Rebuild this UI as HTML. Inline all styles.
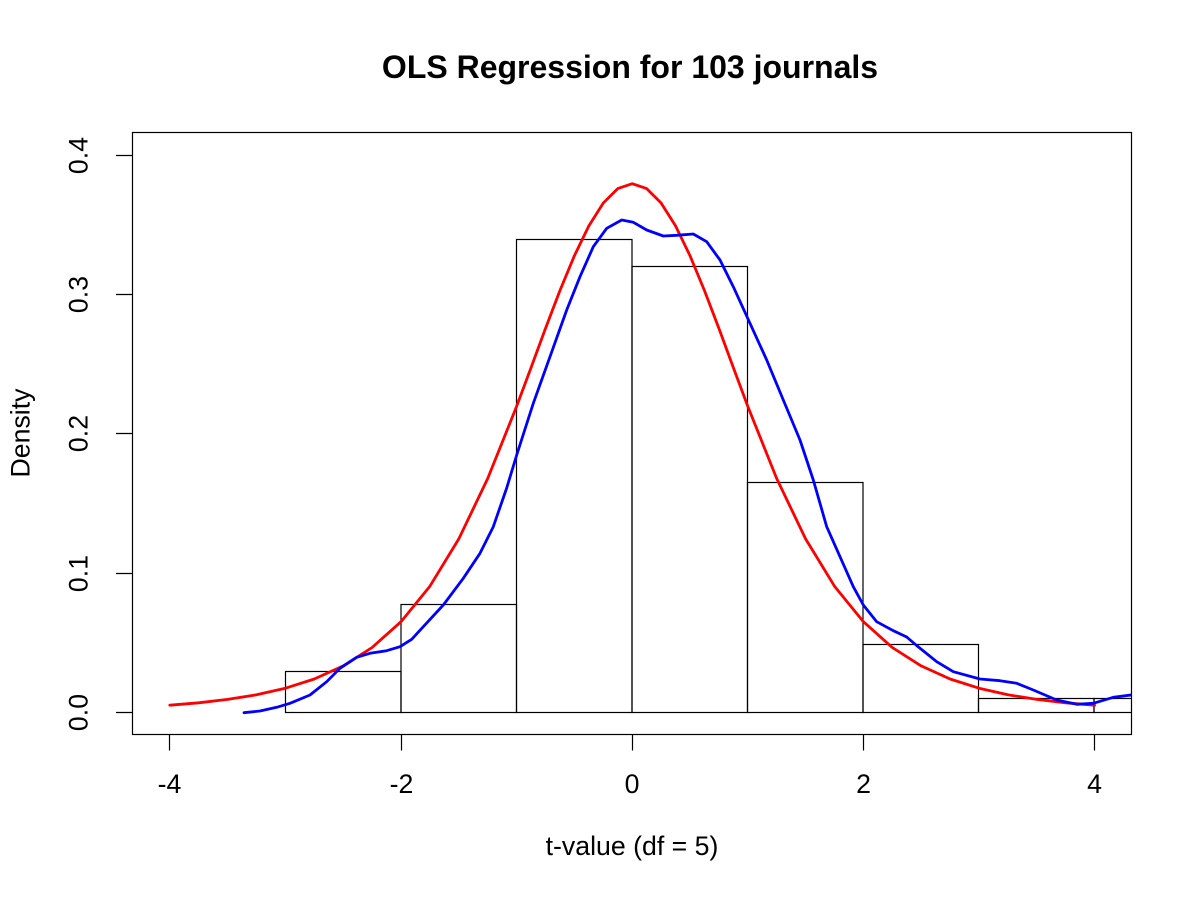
<!DOCTYPE html>
<html>
<head>
<meta charset="utf-8">
<style>
  html, body { margin:0; padding:0; background:#fff; }
  svg { display:block; }
  text { font-family: "Liberation Sans", Arial, sans-serif; fill:#000; }
</style>
</head>
<body>
<svg width="1200" height="900" viewBox="0 0 1200 900" xmlns="http://www.w3.org/2000/svg">
  <rect x="0" y="0" width="1200" height="900" fill="#fff"/>
  <defs>
    <clipPath id="plot">
      <rect x="132.5" y="132.5" width="999" height="602"/>
    </clipPath>
  </defs>

  <!-- Title -->
  <text x="630" y="78" font-size="32" font-weight="bold" text-anchor="middle">OLS Regression for 103 journals</text>

  <!-- Histogram -->
  <g clip-path="url(#plot)" fill="none" stroke="#000" stroke-width="1.2">
    <rect x="285.5" y="671.5" width="115.5" height="41"/>
    <rect x="401" y="604.5" width="115.5" height="108"/>
    <rect x="516.5" y="239.5" width="115.5" height="473"/>
    <rect x="632" y="266.5" width="115.5" height="446"/>
    <rect x="747.5" y="482.5" width="115.5" height="230"/>
    <rect x="863" y="644.5" width="115.5" height="68"/>
    <rect x="978.5" y="698.5" width="115.5" height="14"/>
    <rect x="1094" y="698.5" width="115.5" height="14"/>
  </g>

  <!-- Red t-density curve -->
  <polyline clip-path="url(#plot)" fill="none" stroke="#ff0000" stroke-width="2.8" stroke-linejoin="round" stroke-linecap="round"
    points="169.8,705.2 198.7,702.8 227.6,699.4 256.5,694.8 285.4,688.2 314.3,679.0 343.2,665.9 372.1,647.5 401.0,621.7 429.9,586.2 458.8,538.9 487.7,478.5 516.6,406.4 531.05,367.6 545.5,328.4 559.95,290.5 574.4,255.7 588.85,225.9 603.3,203.0 617.75,188.6 632.2,183.7 646.65,188.6 661.1,203.0 675.55,225.9 690.0,255.7 704.45,290.5 718.9,328.4 733.35,367.6 747.8,406.4 776.7,478.5 805.6,538.9 834.5,586.2 863.4,621.7 892.3,647.5 921.2,665.9 950.1,679.0 979.0,688.2 1007.9,694.8 1036.8,699.4 1065.7,702.8 1094.6,705.2"/>

  <!-- Blue kernel density curve -->
  <polyline clip-path="url(#plot)" fill="none" stroke="#0000ff" stroke-width="2.8" stroke-linejoin="round" stroke-linecap="round"
    points="244,712.7 260,711 276.7,707.3 290,703.3 310,695 326.7,681.7 340,668.3 356.7,657.3 370,653.3 386.7,650.7 400,646.7 411.7,639.3 423.3,626.7 443.3,605 463.3,578.3 480,553.3 493.3,526.7 506.7,488 516.7,455 526,426 533.3,403.3 550,356.7 566.7,310 580,276.7 593.3,246.7 606.7,228.3 621.7,220 633.3,222.3 646.7,230 663.3,236 676.7,235.3 693.3,234 706.7,241.7 720,260 733.3,286.7 750,323.3 766.7,360 783.3,400 800,440 813.3,480 826.7,526.7 840,556.7 853.3,586.7 863.3,605 876.7,621.7 893.3,630.7 906.7,637 916,645 936.7,661.7 953.3,671.7 980,679 1000,680.7 1016.7,683.3 1033.3,690 1056.7,700 1076.7,704.3 1093.3,703.3 1113.3,697.3 1135,694.5"/>

  <!-- Plot box -->
  <rect x="132.5" y="132.5" width="999" height="602" fill="none" stroke="#000" stroke-width="1.2"/>

  <!-- X axis ticks -->
  <g stroke="#000" stroke-width="1.2">
    <line x1="169.5" y1="734.5" x2="169.5" y2="750.5"/>
    <line x1="401.5" y1="734.5" x2="401.5" y2="750.5"/>
    <line x1="632.5" y1="734.5" x2="632.5" y2="750.5"/>
    <line x1="863.5" y1="734.5" x2="863.5" y2="750.5"/>
    <line x1="1094.5" y1="734.5" x2="1094.5" y2="750.5"/>
    <!-- Y axis ticks -->
    <line x1="116" y1="712.5" x2="132.5" y2="712.5"/>
    <line x1="116" y1="573.5" x2="132.5" y2="573.5"/>
    <line x1="116" y1="433.5" x2="132.5" y2="433.5"/>
    <line x1="116" y1="294.5" x2="132.5" y2="294.5"/>
    <line x1="116" y1="155.5" x2="132.5" y2="155.5"/>
  </g>

  <!-- X tick labels -->
  <g font-size="26.7" text-anchor="middle">
    <text x="169.5" y="793">-4</text>
    <text x="401.5" y="793">-2</text>
    <text x="632" y="793">0</text>
    <text x="863.5" y="793">2</text>
    <text x="1094.5" y="793">4</text>
  </g>

  <!-- Y tick labels -->
  <g font-size="26.7" text-anchor="middle">
    <text x="87.5" y="712.5" transform="rotate(-90 87.5 712.5)">0.0</text>
    <text x="87.5" y="573.5" transform="rotate(-90 87.5 573.5)">0.1</text>
    <text x="87.5" y="433.5" transform="rotate(-90 87.5 433.5)">0.2</text>
    <text x="87.5" y="294.5" transform="rotate(-90 87.5 294.5)">0.3</text>
    <text x="87.5" y="155.5" transform="rotate(-90 87.5 155.5)">0.4</text>
  </g>

  <!-- Axis labels -->
  <text x="632" y="855" font-size="26.7" text-anchor="middle">t-value (df = 5)</text>
  <text x="29.5" y="433" font-size="26.7" text-anchor="middle" transform="rotate(-90 29.5 433)">Density</text>
</svg>
</body>
</html>
